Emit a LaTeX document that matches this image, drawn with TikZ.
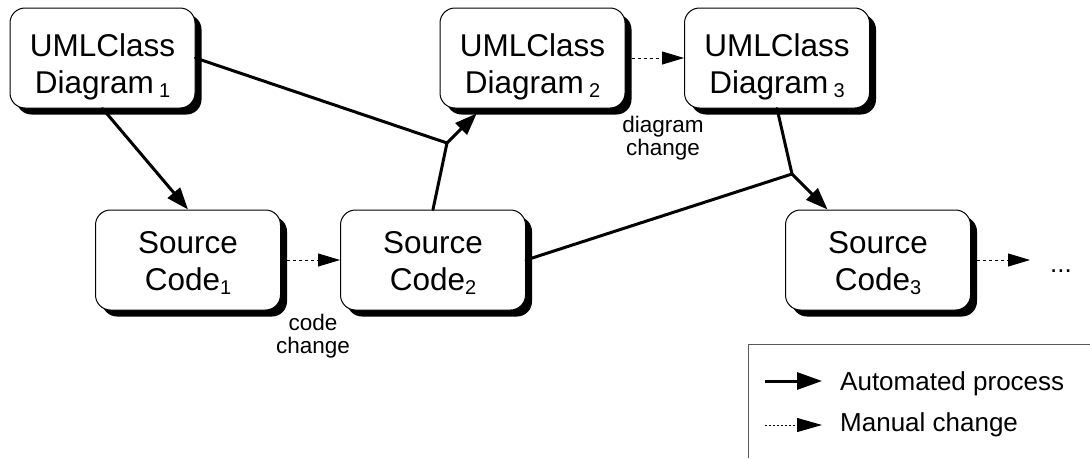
\documentclass[tikz,border=0pt]{standalone}
\usepackage{fontspec}
\setmainfont{Liberation Sans}
\usetikzlibrary{arrows.meta,shadows,calc}
% lowered index after a word
\newcommand{\lowsub}[1]{\raisebox{-4pt}{\fontsize{20}{20}\selectfont #1}}
\tikzset{
  box/.style={draw, line width=1pt, fill=white, rounded corners=15pt,
    minimum width=185pt, minimum height=100pt, inner sep=0pt,
    drop shadow={shadow xshift=6.5pt, shadow yshift=-6.5pt, fill=black, opacity=1}},
  boxtext/.style={align=center, inner sep=0pt, font=\fontsize{31.5}{37}\selectfont},
  autoline/.style={line width=3pt, line cap=round, line join=round},
  autoarrow/.style={autoline, -{Triangle[length=22pt,width=16pt]}},
  manualarrow/.style={line width=0.9pt, dash pattern=on 3pt off 3pt,
    -{Triangle[length=22pt,width=13pt]}},
  smalltext/.style={align=center, inner sep=0pt, font=\fontsize{22.5}{23}\selectfont},
  legendtext/.style={anchor=base west, inner sep=0pt, font=\fontsize{26}{30}\selectfont},
}
\begin{document}
\begin{tikzpicture}[x=1pt, y=-1pt]
\useasboundingbox (0,0) rectangle (1090,458);

% class diagrams
\node[box, label={[boxtext, yshift=-9pt]center:UMLClass\\Diagram\,\lowsub{1}}] (uml1) at (102.5,58) {};
\node[box, label={[boxtext, yshift=-9pt]center:UMLClass\\Diagram\,\lowsub{2}}] (uml2) at (532.5,58) {};
\node[box, label={[boxtext, yshift=-9pt]center:UMLClass\\Diagram\,\lowsub{3}}] (uml3) at (777,58) {};

% source code versions
\node[box, label={[boxtext, yshift=-3pt]center:Source\\Code\lowsub{1}}] (s1) at (188,260) {};
\node[box, label={[boxtext, yshift=-3pt]center:Source\\Code\lowsub{2}}] (s2) at (433,260) {};
\node[box, label={[boxtext, yshift=-3pt]center:Source\\Code\lowsub{3}}] (s3) at (878,260) {};

\node[legendtext] (more) at (1050,272) {...};

% junctions where two inputs merge
\coordinate (j1) at (447,143);
\coordinate (j2) at (792,174);

% automated processes
\draw[autoarrow] (uml1.south) -- (s1.north);
\draw[autoline] (s2.north) -- (j1);
\draw[autoarrow, shorten >=7pt] (uml1.east) -- (j1) -- (uml2);
\draw[autoline] (uml3.south) -- (j2);
\draw[autoarrow] (s2.east) -- (j2) -- (s3);

% manual changes
\draw[manualarrow] (s1.east) -- (s2.west);
\draw[manualarrow] (uml2.east) -- (uml3.west);
\draw[manualarrow, shorten >=20pt] (s3.east) -- (s3.east -| more.west);

\node[smalltext] (codechg) at (313,336) {code\\change};
\node[smalltext] (diagchg) at (663,138) {diagram\\change};

% legend
\draw[line width=1pt, black!65] (748,458) -- (748,344) -- (1090,344);
\coordinate (la1) at (765,381);
\coordinate (la2) at (822,381);
\coordinate (lm1) at (765,425);
\coordinate (lm2) at (822,425);
\draw[line width=3pt, -{Triangle[length=25pt,width=17pt]}] (la1) -- (la2);
\draw[line width=0.9pt, dash pattern=on 2pt off 2pt, -{Triangle[length=25pt,width=14pt]}] (lm1) -- (lm2);
\node[legendtext] (lauto) at (840,390) {Automated process};
\node[legendtext] (lman) at (840,431) {Manual change};
\end{tikzpicture}
\end{document}
